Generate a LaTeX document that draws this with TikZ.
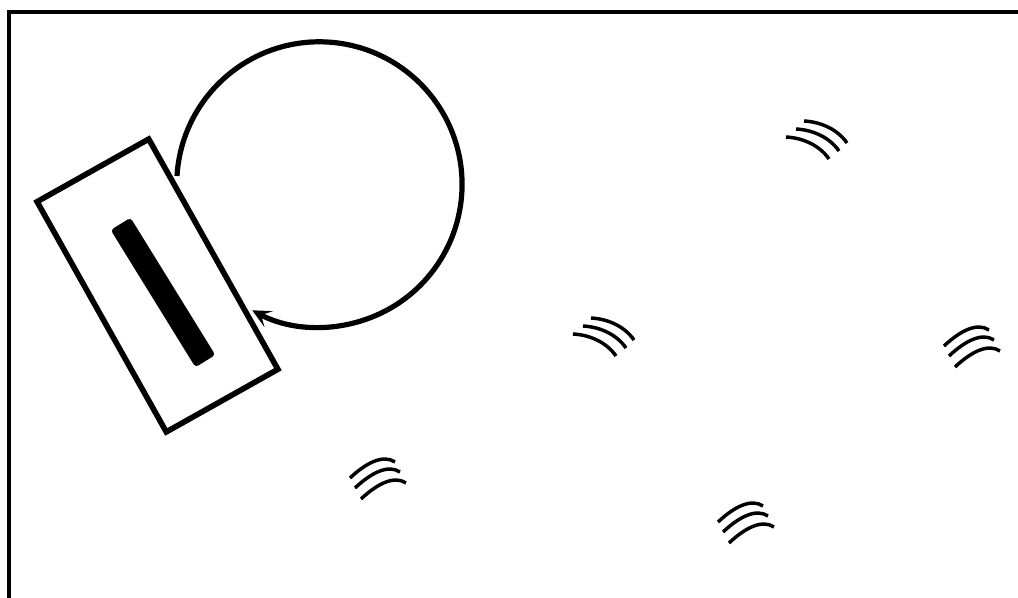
\documentclass[tikz,border=0pt]{standalone}
\usepackage{tikz}
\usetikzlibrary{arrows.meta, positioning, calc}
\tikzset{
  framepart/.style={line width=3.2pt, line cap=butt},
  bodybox/.style={draw, line width=4.2pt, minimum width=198pt, minimum height=96pt, rotate=-60.7, inner sep=0pt, outer sep=0pt},
  brushbar/.style={fill=black, rounded corners=2.5pt, minimum width=121pt, minimum height=17.5pt, rotate=-58.3, inner sep=0pt},
  pathline/.style={line width=3.9pt, -{Stealth[length=14pt, width=13.5pt, inset=6.5pt]}},
  duststroke/.style={line width=2.6pt, line cap=butt},
  dustright/.pic={
    \foreach \dx/\dy in {0/0, 10/-8, 18/-16}
      \draw[duststroke] (\dx,\dy) .. controls +(18,1) and +(-9,-13) .. +(43,22);
  },
  dustleft/.pic={
    \foreach \dx/\dy in {0/0, 5/10, 11/21}
      \draw[duststroke] (\dx,\dy) .. controls +(16,-15) and +(-12,-8) .. +(45,-16);
  },
}

\begin{document}
\begin{tikzpicture}[x=0.75pt, y=-0.75pt]
  \useasboundingbox (0,0) rectangle (1018,598);
  \clip (0,0) rectangle (1018,598);
  % frame
  \draw[framepart] (9,610) -- (9,12) -- (1030,12);

  \node[bodybox] (body) at (157.5,285.5) {};
  \node[brushbar] (brush) at (163,292.5) {};

  \coordinate (pathstart) at (177,176);
  \draw[pathline] (pathstart) arc[start angle=176.6, end angle=-118.1, radius=107pt];

  \foreach \px/\py in {786/137, 573/334}
    \pic at (\px,\py) {dustright};
  \foreach \px/\py in {350/478, 718/522, 944/346}
    \pic at (\px,\py) {dustleft};
\end{tikzpicture}
\end{document}
